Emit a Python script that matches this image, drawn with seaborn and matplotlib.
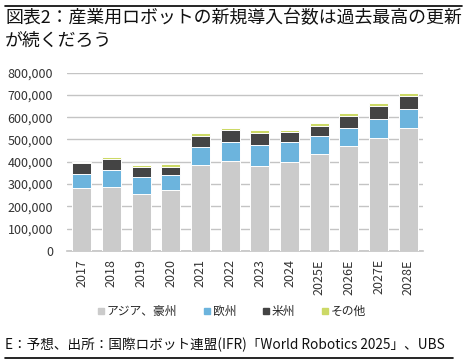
import numpy as np
import pandas as pd
import matplotlib
matplotlib.use('Agg')
import matplotlib.pyplot as plt
from matplotlib.lines import Line2D
import seaborn as sns

# Data (units)
years = ['2017', '2018', '2019', '2020', '2021', '2022', '2023', '2024',
         '2025E', '2026E', '2027E', '2028E']
asia = [281000, 286000, 256000, 274000, 384000, 404000, 380000, 401000,
        434000, 470000, 506000, 550000]
europe = [66000, 76000, 75000, 67000, 81000, 84000, 93000, 87000,
          81000, 80000, 85000, 88000]
americas = [46000, 52000, 45000, 37000, 51000, 55000, 55000, 47000,
            47000, 54000, 57000, 57000]
others = [8000, 9000, 11000, 12000, 12000, 9000, 15000, 8000,
          12000, 14000, 15000, 13000]

labels = ['アジア、豪州', '欧州', '米州', 'その他']
colors = ['#cbcbcb', '#6cb4dd', '#444444', '#ccd966']

sns.set_theme(style='white')
plt.rcParams['font.family'] = ['Noto Sans CJK JP', 'DejaVu Sans']

# cumulative stacks, drawn from the top down
df = pd.DataFrame({'year': years, 'asia': asia, 'europe': europe,
                   'americas': americas, 'others': others})
df['c1'] = df['asia']
df['c2'] = df['c1'] + df['europe']
df['c3'] = df['c2'] + df['americas']
df['c4'] = df['c3'] + df['others']

fig = plt.figure(figsize=(4.68, 3.61), dpi=100)
ax = fig.add_axes([0.143, 0.305, 0.761, 0.494])

for col, c in zip(['c4', 'c3', 'c2', 'c1'], colors[::-1]):
    sns.barplot(data=df, x='year', y=col, color=c, width=0.64,
                edgecolor='white', linewidth=0.7, saturation=1, ax=ax, zorder=3)

ax.set_ylim(0, 800000)
ax.set_yticks(np.arange(0, 800001, 100000))
ax.set_yticklabels([f'{v:,}' for v in range(0, 800001, 100000)])
ax.yaxis.grid(True, color='#c4c4c4', linewidth=1)
ax.set_axisbelow(True)
ax.set_xlabel('')
ax.set_ylabel('')
for s in ['top', 'right', 'left']:
    ax.spines[s].set_visible(False)
ax.spines['bottom'].set_color('#c4c4c4')
ax.spines['bottom'].set_linewidth(1.2)
ax.tick_params(axis='y', length=0, pad=10, labelsize=9, labelcolor='#333333')
ax.tick_params(axis='x', length=0, pad=6, labelsize=9, labelcolor='#333333',
               rotation=90)
ax.set_xlim(-0.5, len(years) - 0.5)

handles = [Line2D([], [], marker='s', linestyle='', markersize=4.5,
                  markerfacecolor=c, markeredgecolor=c) for c in colors]
fig.legend(handles, labels, loc='center', bbox_to_anchor=(0.495, 0.138),
           ncol=4, frameon=False, fontsize=8.5, handlelength=0.6,
           handletextpad=0.2, columnspacing=2.2)

# title, source and rules
fig.text(0.011, 0.975, '図表2：産業用ロボットの新規導入台数は過去最高の更新\nが続くだろう',
         ha='left', va='top', fontsize=12.9, linespacing=1.35, color='#111111')
fig.text(0.011, 0.044, 'E：予想、出所：国際ロボット連盟(IFR)「World Robotics 2025」、UBS',
         ha='left', va='center', fontsize=9.8, color='#111111')
fig.add_artist(Line2D([0.011, 0.987], [0.983, 0.983], color='black', linewidth=1.2))
fig.add_artist(Line2D([0.011, 0.967], [0.008, 0.008], color='black', linewidth=1.2))

fig.savefig('out.png', dpi=100)
plt.close()
